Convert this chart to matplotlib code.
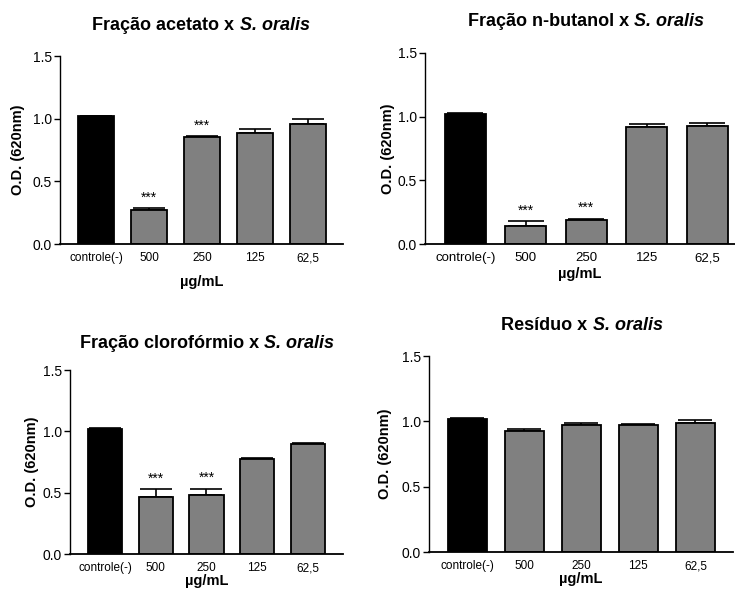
import matplotlib
matplotlib.use("Agg")
import matplotlib.pyplot as plt
import numpy as np

plt.rcParams['font.family'] = ['Liberation Sans', 'DejaVu Sans']

cats = ["controle(-)", "500", "250", "125", "62,5"]

acetato = [1.02, 0.271, 0.85, 0.885, 0.96]
acetato_err = [0.005, 0.014, 0.01, 0.03, 0.04]
acetato_sig = ["", "***", "***", "", ""]

butanol = [1.02, 0.143, 0.19, 0.916, 0.929]
butanol_err = [0.005, 0.034, 0.008, 0.026, 0.018]
butanol_sig = ["", "***", "***", "", ""]

cloro = [1.02, 0.467, 0.478, 0.777, 0.899]
cloro_err = [0.004, 0.063, 0.055, 0.008, 0.008]
cloro_sig = ["", "***", "***", "", ""]

residuo = [1.02, 0.925, 0.971, 0.974, 0.984]
residuo_err = [0.005, 0.02, 0.018, 0.007, 0.023]
residuo_sig = ["", "", "", "", ""]

titles = ["Fração acetato x ", "Fração n-butanol x ", "Fração clorofórmio x ", "Resíduo x "]
species = "S. oralis"

W, H = 735, 596
fig = plt.figure(figsize=(W / 100, H / 100), dpi=100)
renderer = fig.canvas.get_renderer()

# panel boxes in pixels: left, top, right, bottom ; xlim ; title centre ; label offsets
panels = [
    dict(box=(60, 56, 343, 244), xlim=(-0.69, 4.67), tpos=(201, 26), ylab=42, xlab=38, xt=8.5, data=(acetato, acetato_err, acetato_sig)),
    dict(box=(425, 53, 735, 244), xlim=(-0.67, 4.46), tpos=(586, 22), ylab=37, xlab=30, xt=9.5, data=(butanol, butanol_err, butanol_sig)),
    dict(box=(70, 370, 343, 554), xlim=(-0.69, 4.69), tpos=(207, 343), ylab=38, xlab=27, xt=8.5, data=(cloro, cloro_err, cloro_sig)),
    dict(box=(429, 356, 733, 552), xlim=(-0.675, 4.66), tpos=(582, 326), ylab=44, xlab=27, xt=8.5, data=(residuo, residuo_err, residuo_sig)),
]

bw = 0.68
for p, title in zip(panels, titles):
    l, t, r, b = p['box']
    ax = fig.add_axes([l / W, 1 - b / H, (r - l) / W, (b - t) / H])
    vals, errs, sig = p['data']
    x = np.arange(len(cats))
    colors = ['black'] + ['#808080'] * (len(cats) - 1)
    px_per_unit = (r - l) / (p['xlim'][1] - p['xlim'][0])
    cap = bw * px_per_unit / 2 * 0.72 * 0.9
    ax.bar(x, vals, width=bw, color=colors, edgecolor='black', linewidth=1.3, zorder=2)
    ax.errorbar(x, vals, yerr=[np.zeros(len(vals)), errs], fmt='none', ecolor='black',
                elinewidth=1.2, capsize=cap, capthick=1.2, zorder=1)
    for xi, v, e, s in zip(x, vals, errs, sig):
        if s:
            ax.text(xi, v + e + 0.03, s, ha='center', va='bottom', fontsize=10)
    ax.set_xlim(*p['xlim'])
    ax.set_ylim(0, 1.5)
    ax.set_yticks([0.0, 0.5, 1.0, 1.5])
    ax.set_yticklabels(["0.0", "0.5", "1.0", "1.5"], fontsize=10)
    ax.set_xticks(x)
    ax.set_xticklabels(cats, fontsize=p['xt'])
    ax.tick_params(axis='x', length=0, pad=6)
    ax.tick_params(axis='y', length=4, width=1, direction='out', pad=2)
    for s in ['top', 'right']:
        ax.spines[s].set_visible(False)
    ax.spines['left'].set_linewidth(1.0)
    ax.spines['bottom'].set_linewidth(1.3)
    ax.set_ylabel("O.D. (620nm)", fontsize=10.5, fontweight='bold')
    ax.set_xlabel("µg/mL", fontsize=10.5, fontweight='bold')
    ax.yaxis.label.set_va('center')
    ax.xaxis.label.set_va('center')
    ax.yaxis.set_label_coords(-p['ylab'] / (r - l), 0.5)
    ax.xaxis.set_label_coords(0.5, -p['xlab'] / (b - t))

    # title: bold part + bold italic species, centred together
    ty = 1 - p['tpos'][1] / H
    t1 = fig.text(0, ty, title, ha='left', va='center', fontsize=13, fontweight='bold')
    t2 = fig.text(0, ty, species, ha='left', va='center', fontsize=13, fontweight='bold', style='italic')
    w1 = t1.get_window_extent(renderer).width
    w2 = t2.get_window_extent(renderer).width
    x0 = p['tpos'][0] - (w1 + w2) / 2
    t1.set_x(x0 / W)
    t2.set_x((x0 + w1) / W)

fig.savefig("out.png", dpi=100)
